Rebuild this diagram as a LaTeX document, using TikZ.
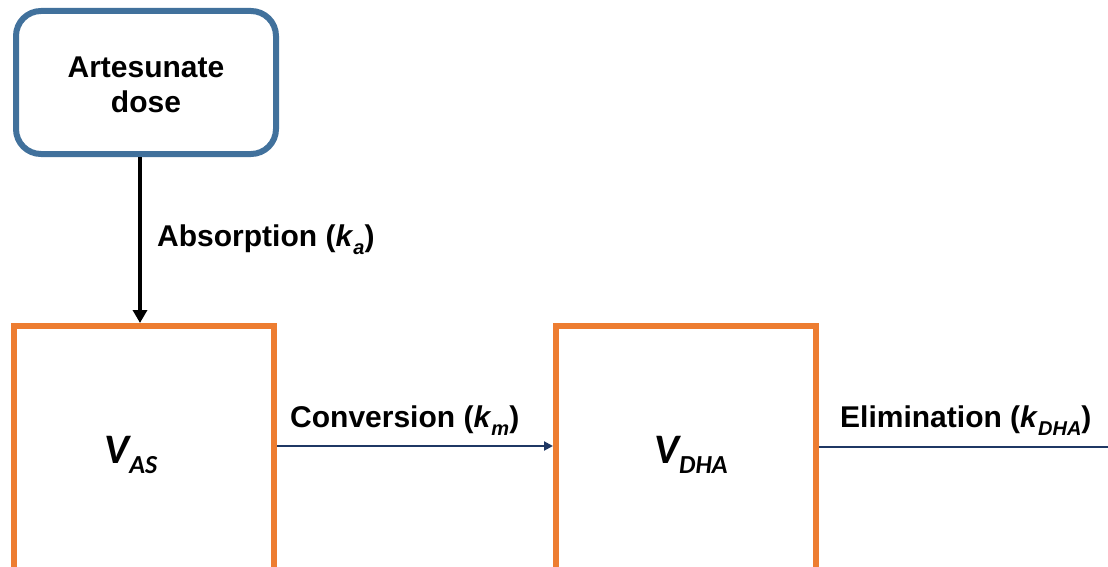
\documentclass[tikz,border=0pt]{standalone}
\usepackage{fontspec}
\setmainfont{Liberation Sans}
\newfontfamily\calib{Carlito}
\usetikzlibrary{arrows.meta}
\definecolor{doseblue}{HTML}{41719C}
\definecolor{comporange}{HTML}{ED7D31}
\definecolor{navyline}{HTML}{1F3864}
\newcommand{\ksub}[1]{\textit{k}\raisebox{-0.28em}{\fontsize{20}{20}\selectfont\textit{#1}}}
\tikzset{
  dosebox/.style={draw=doseblue, line width=6pt, rounded corners=25pt, minimum width=260pt, minimum height=143pt, inner sep=0pt, fill=white},
  compbox/.style={draw=comporange, line width=6pt, minimum width=260pt, minimum height=260pt, inner sep=0pt},
  lbl/.style={font=\fontsize{30}{36}\selectfont\bfseries, inner sep=0pt, anchor=base west},
  vlbl/.style={font=\calib\fontsize{42}{42}\selectfont\bfseries\itshape, inner sep=0pt},
  absarrow/.style={line width=4pt, -{Triangle[length=13pt,width=14pt]}},
  convarrow/.style={draw=navyline, line width=2pt, -{Triangle[length=9pt,width=9pt]}},
  elimline/.style={draw=navyline, line width=2pt}
}
\begin{document}
\begin{tikzpicture}[x=1pt,y=-1pt]
\useasboundingbox (0,0) rectangle (1108,567);
\clip (0,0) rectangle (1108,567);
\fill[white] (0,0) rectangle (1108,567);
\node[dosebox] (dose) at (146,82.5) {};
\node[align=center, font=\fontsize{30}{35}\selectfont\bfseries, inner sep=0pt] (dosetext) at (146,85) {Artesunate\\dose};
\node[compbox] (as) at (144,456) {};
\node[compbox] (dha) at (686,456) {};
\node[vlbl] (vas) at (131,455) {V\raisebox{-0.25em}{\fontsize{26}{26}\selectfont AS}};
\node[vlbl] (vdha) at (691,455) {V\raisebox{-0.25em}{\fontsize{26}{26}\selectfont DHA}};
\coordinate (elimend) at (1108,447);
\draw[absarrow] ([xshift=-6pt]dose.south) -- ([xshift=-6pt]dose.south |- as.north);
\draw[convarrow] (as.east |- 0,446) -- (dha.west |- 0,446);
\draw[elimline] (dha.east |- elimend) -- (elimend);
\node[lbl] (abs) at (157,246) {Absorption (\ksub{a})};
\node[lbl] (conv) at (290,427) {Conversion (\ksub{m})};
\node[lbl] (elim) at (840,427) {Elimination (\ksub{DHA})};
\end{tikzpicture}
\end{document}
